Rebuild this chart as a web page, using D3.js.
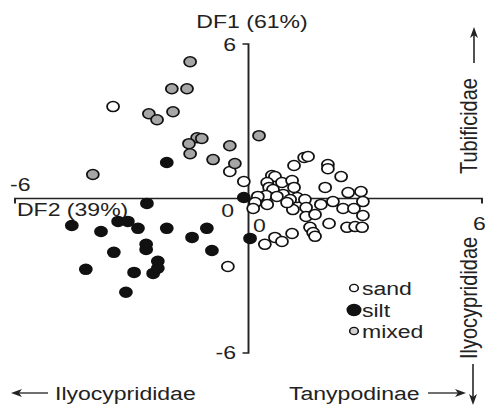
<!DOCTYPE html>
<html>
<head>
<meta charset="utf-8">
<script src="https://cdn.jsdelivr.net/npm/d3@7"></script>
<style>
  html, body { margin: 0; padding: 0; background: #fff; }
  svg { display: block; }
  text { font-family: "Liberation Sans", Arial, Helvetica, sans-serif; fill: #222; }
</style>
</head>
<body>
<svg id="chart"></svg>
<script>
// ---------- data (DF2 score, DF1 score) ----------
const sand = [
  [-3.48, 3.57], [-0.48, 1.05], [-0.12, 0.66], [-0.53, -2.64],
  [1.17, 1.28], [1.43, 1.59], [1.53, 1.63], [2.04, 1.32], [2.04, 1.16],
  [2.38, 0.85], [0.60, 0.89], [0.68, 0.85], [0.86, 0.62], [1.12, 0.70],
  [0.48, 0.62], [0.53, 0.43], [0.63, 0.35], [1.17, 0.43], [0.45, 0.12],
  [0.24, 0.08], [0.89, 0.16], [1.25, 0.04], [0.73, 0.08], [1.97, 0.43],
  [2.56, 0.23], [2.89, 0.27], [0.17, -0.16], [0.48, -0.23], [0.12, -0.39],
  [1.07, -0.04], [1.14, -0.43], [1.45, -0.04], [1.48, -0.35], [1.48, -0.70],
  [1.71, -0.62], [1.86, -0.23], [2.17, -0.12], [2.43, -0.39], [2.71, -0.39],
  [2.94, -0.12], [2.94, -0.66], [2.07, -0.97], [1.58, -1.12], [1.66, -1.32],
  [1.71, -1.47], [2.53, -1.12], [2.74, -1.09], [2.92, -1.12], [0.42, -1.78],
  [0.68, -1.51], [0.86, -1.67], [1.12, -1.36], [0.99, -0.16]
];
const silt = [
  [-2.10, 1.40], [-0.12, 0.04], [-2.61, -0.19], [-4.54, -1.05], [-3.79, -1.28],
  [-3.35, -0.89], [-3.10, -0.89], [-2.84, -1.16], [-2.10, -1.16], [-1.07, -1.16],
  [-1.45, -1.51], [-2.63, -1.78], [-2.63, -1.98], [-3.46, -2.09], [-0.94, -2.02],
  [-2.33, -2.44], [-4.18, -2.75], [-2.94, -2.87], [-2.45, -2.91], [-2.33, -2.71],
  [-3.15, -3.64], [0.04, -1.55]
];
const mixed = [
  [-1.50, 5.31], [-1.97, 4.26], [-1.58, 4.26], [-1.94, 3.37], [-2.56, 3.29],
  [-2.35, 3.06], [-1.32, 2.36], [-1.20, 2.33], [-1.53, 2.13], [-0.48, 2.05],
  [-1.50, 1.74], [-0.91, 1.51], [-0.35, 1.36], [-4.00, 0.93], [0.27, 2.44]
];
const groups = ["sand", "silt", "mixed"];
const xDomain = [-6, 6];
const yDomain = [-6, 6];
const xTickLabels = ["-6", "0", "6"];
const yTickLabels = ["6", "0", "-6"];
const xTitle = "DF2 (39%)";
const yTitle = "DF1 (61%)";
const arrowLabels = ["Tubificidae", "Ilyocyprididae", "Ilyocyprididae", "Tanypodinae"];

// ---------- layout ----------
const W = 485, H = 408;
const SX = 1.2;               // the reference is stretched horizontally
const VW = W / SX;
const fills = { sand: "#ffffff", silt: "#111111", mixed: "#a6a6a6" };
const legendFills = { sand: "#ffffff", silt: "#111111", mixed: "#d2d2d2" };

const svg = d3.select("#chart")
  .attr("width", W).attr("height", H)
  .attr("viewBox", `0 0 ${VW} ${H}`)
  .attr("preserveAspectRatio", "none");

const px = v => v / SX;  // pixel x -> viewBox x

const x = d3.scaleLinear().domain(xDomain).range([px(15), px(482)]);
const y = d3.scaleLinear().domain(yDomain).range([353, 44]);

const axisColor = "#222";
const g = svg.append("g");

// horizontal axis with end ticks (down)
g.append("path")
  .attr("d", `M${x(xDomain[0])},${y(0) + 5}V${y(0)}H${x(xDomain[1])}V${y(0) + 5}`)
  .attr("fill", "none").attr("stroke", axisColor).attr("stroke-width", 1.6);
// vertical axis with end ticks (left)
g.append("path")
  .attr("d", `M${x(0) - px(6)},${y(yDomain[1])}H${x(0)}V${y(yDomain[0])}H${x(0) - px(6)}`)
  .attr("fill", "none").attr("stroke", axisColor).attr("stroke-width", 1.6);

const FS = 19.2, FSR = 20;
function txt(xp, yp, s, anchor) {
  return svg.append("text").attr("x", xp).attr("y", yp)
    .attr("font-size", FS).attr("text-anchor", anchor || "start").text(s);
}

// tick labels
txt(px(10), 191, xTickLabels[0]);
txt(px(234), 217, xTickLabels[1], "end");
txt(px(473), 230, xTickLabels[2]);
txt(px(236), 51, yTickLabels[0], "end");
txt(px(253), 232, yTickLabels[1]);
txt(px(236), 359, yTickLabels[2], "end");

// axis titles
txt(px(17), 216, xTitle);
txt(px(252), 28, yTitle, "middle");

// points
function drawGroup(data, key) {
  svg.append("g").selectAll("circle").data(data).join("circle")
    .attr("cx", d => x(d[0])).attr("cy", d => y(d[1])).attr("r", 5)
    .attr("fill", fills[key]).attr("stroke", "#111").attr("stroke-width", 1.5);
}
drawGroup(sand, "sand");
drawGroup(mixed, "mixed");
drawGroup(silt, "silt");

// legend
const legY = [288, 310, 331];
const legR = { sand: 3.6, silt: 5.6, mixed: 3.6 };
groups.forEach((k, i) => {
  svg.append("circle").attr("cx", px(354)).attr("cy", legY[i]).attr("r", legR[k])
    .attr("fill", legendFills[k]).attr("stroke", "#111").attr("stroke-width", 1.3);
  txt(px(362), legY[i] + 7, k);
});

// arrows drawn in pixel space, then converted (head: length L, half-width HW)
function arrow(x1, y1, x2, y2) {
  const L = 11, HW = 4, notch = 3;
  const dx = x2 - x1, dy = y2 - y1, len = Math.hypot(dx, dy);
  const ux = dx / len, uy = dy / len, nx = -uy, ny = ux;
  const bx = x2 - ux * L, by = y2 - uy * L;
  svg.append("line")
    .attr("x1", px(x1)).attr("y1", y1).attr("x2", px(bx + ux * notch)).attr("y2", by + uy * notch)
    .attr("stroke", "#222").attr("stroke-width", 1.3);
  const pts = [
    [x2, y2],
    [bx + nx * HW, by + ny * HW],
    [bx + ux * notch, by + uy * notch],
    [bx - nx * HW, by - ny * HW]
  ];
  svg.append("path")
    .attr("d", "M" + pts.map(p => `${px(p[0])},${p[1]}`).join("L") + "Z")
    .attr("fill", "#222");
}

// right side rotated labels
svg.append("text").attr("transform", `translate(${px(477)},174) rotate(-90)`)
  .attr("font-size", FSR).text(arrowLabels[0]);
arrow(474, 63, 474, 27);
svg.append("text").attr("transform", `translate(${px(477)},359) rotate(-90)`)
  .attr("font-size", FSR).text(arrowLabels[1]);
arrow(473, 364, 473, 405);

// bottom labels
arrow(48, 393, 11, 393);
txt(px(55), 400, arrowLabels[2]);
txt(px(289), 400, arrowLabels[3]);
arrow(428, 393, 466, 393);
</script>
</body>
</html>
